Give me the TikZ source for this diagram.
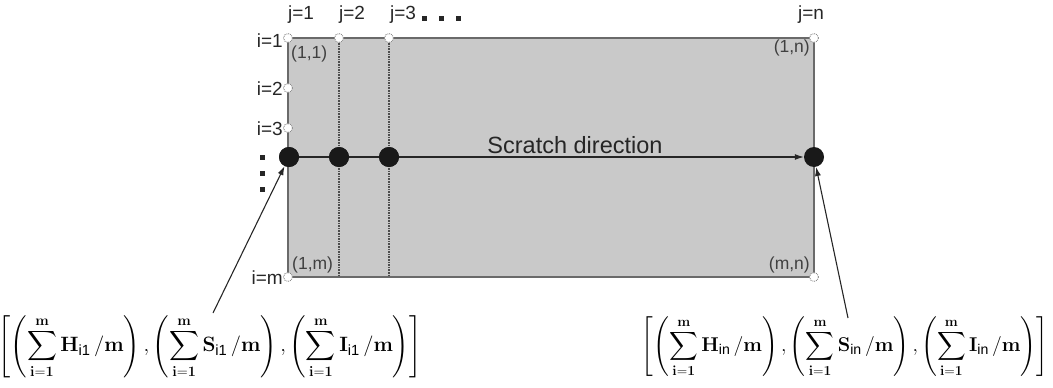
\documentclass[tikz,border=0pt]{standalone}
\usepackage{amsmath}
\usepackage[no-math]{fontspec}
\setmainfont{Liberation Sans}
\usetikzlibrary{arrows.meta}
\definecolor{rectfill}{HTML}{C9C9C9}
\definecolor{rectline}{HTML}{6A6A6A}
\tikzset{
  lbl/.style={font=\fontsize{19}{22}\selectfont, text=black!85, inner sep=0pt},
  corner/.style={font=\fontsize{17.5}{20}\selectfont, text=black!75, inner sep=0pt},
  marker/.style={circle, fill=white, draw=black!45, densely dotted, line width=0.9pt, minimum size=9pt, inner sep=0pt},
  bigdot/.style={circle, fill=black!90, minimum size=20pt, inner sep=0pt},
  grid line/.style={densely dotted, line width=1.6pt, black!70},
  arr/.style={-{Latex[length=9pt,width=6pt]}, line width=1.1pt, black!85},
  formula/.style={inner sep=0pt, font=\fontsize{21}{25}\selectfont}
}
\newcommand{\sumterm}[2]{\left(\sum_{\mathbf{i=1}}^{\mathbf{m}}\mathbf{#1}_{\text{\normalfont #2}}\,/\mathbf{m}\right)}
\begin{document}
\begin{tikzpicture}[x=1pt,y=-1pt]
\useasboundingbox (0,0) rectangle (1053,388);
% rectangle
\fill[rectfill] (288,38) rectangle (814,277);
\draw[rectline, line width=1.6pt] (288,38) rectangle (814,277);
% dotted columns
\draw[grid line] (339,38) -- (339,277);
\draw[grid line] (389,38) -- (389,277);
% dots
\node[bigdot] (d1) at (289,157) {};
\node[bigdot] (d2) at (339,157) {};
\node[bigdot] (d3) at (389,157) {};
\node[bigdot] (dn) at (814,157) {};
\draw[arr] (d1.center) -- (dn);
\node[bigdot] at (d1) {};
\node[bigdot] at (d2) {};
\node[bigdot] at (d3) {};
% markers
\node[marker] (m11) at (288,38) {};
\node[marker] (m12) at (339,38) {};
\node[marker] (m13) at (389,38) {};
\node[marker] (m1n) at (814,38) {};
\node[marker] (m21) at (288,88) {};
\node[marker] (m31) at (288,128) {};
\node[marker] (mm1) at (288,277) {};
\node[marker] (mmn) at (814,277) {};
% labels
\node[lbl] (j1) at (301,15) {j=1};
\node[lbl] (j2) at (352,15) {j=2};
\node[lbl] (j3) at (403,15) {j=3};
\node[lbl] (jn) at (811,15) {j=n};
\foreach \x in {424,441,458}{\fill[black!85] (\x-2.5,15.5) rectangle (\x+2.5,20.5);}
\node[lbl, anchor=east] (i1) at (283,41) {i=1};
\node[lbl, anchor=east] (i2) at (283,89) {i=2};
\node[lbl, anchor=east] (i3) at (283,129) {i=3};
\node[lbl, anchor=east] (im) at (283,278) {i=m};
\foreach \y in {157,173,189}{\fill[black!85] (259.5,\y-2.5) rectangle (264.5,\y+2.5);}
\node[corner, anchor=north west] (c11) at (291,46) {(1,1)};
\node[corner, anchor=north east] (c1n) at (810,40) {(1,n)};
\node[corner, anchor=south west] (c1m) at (292,273) {(1,m)};
\node[corner, anchor=south east] (cmn) at (810,273) {(m,n)};
\node[font=\fontsize{23.5}{27}\selectfont, text=black!85] (sd) at (575,145) {Scratch direction};
% formulas
\node[formula] (fl) at (210,347) {$\displaystyle\left[\sumterm{H}{i1},\sumterm{S}{i1},\sumterm{I}{i1}\right]$};
\node[formula, scale=0.96] (fr) at (845,347) {$\displaystyle\left[\sumterm{H}{in},\sumterm{S}{in},\sumterm{I}{in}\right]$};
\coordinate (al) at (213,313);
\coordinate (ar) at (848,318);
\draw[arr] (al) -- (d1);
\draw[arr] (ar) -- (dn);
\end{tikzpicture}
\end{document}
